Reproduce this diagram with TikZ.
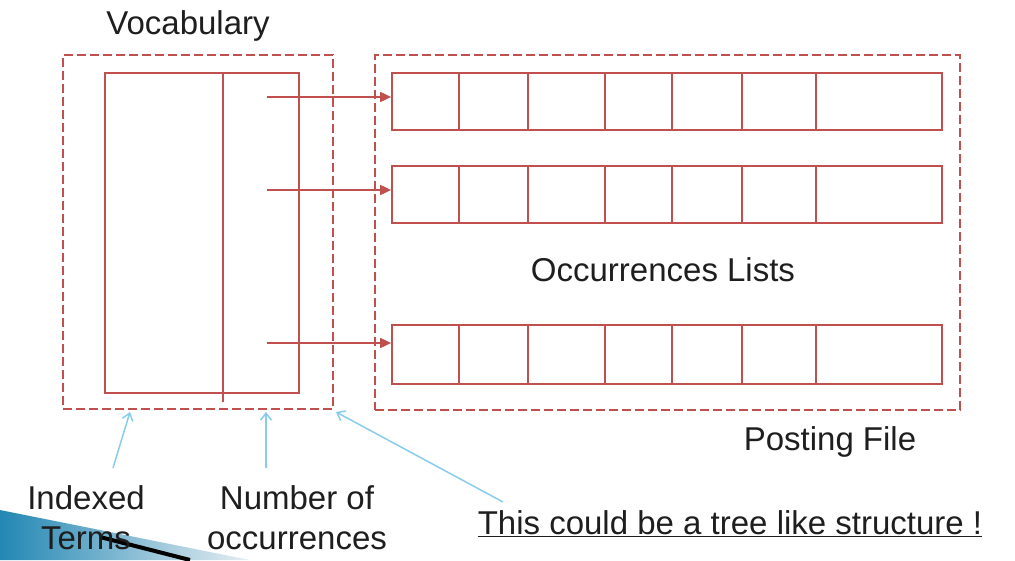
\documentclass[tikz,border=0pt]{standalone}
\usepackage{fontspec}
\setmainfont{Liberation Sans}
\usepackage{xcolor}
\usepackage{tikz}
\usetikzlibrary{arrows.meta}

\definecolor{boxred}{RGB}{192,80,77}
\definecolor{tipblue}{RGB}{135,205,235}
\definecolor{inkgray}{RGB}{30,30,30}

\begin{document}
\begin{tikzpicture}[x=1pt,y=-1pt,
    every node/.style={font=\fontsize{33}{40}\selectfont,text=inkgray,inner sep=0pt},
    dashbox/.style={draw=boxred,line width=2pt,dash pattern=on 9pt off 4pt},
    cellbox/.style={draw=boxred,line width=1.7pt},
    link/.style={draw=boxred,line width=1.7pt,-{Triangle[length=11pt,width=10pt]}},
    pointer/.style={draw=tipblue,line width=1.5pt,-{Straight Barb[length=7pt,width=11pt]}}]
    \useasboundingbox (0,0) rectangle (1015,560);
    % corner decoration
    \shade[left color={rgb,255:red,35;green,135;blue,180},right color={rgb,255:red,230;green,238;blue,242}]
        (0,510) -- (250,560) -- (0,560) -- cycle;
    \draw[line width=4pt,black] (100,537) -- (190,560);
    % vocabulary
    \node[dashbox,minimum width=270pt,minimum height=354pt] (vocab) at (198,232) {};
    \node[cellbox,minimum width=194pt,minimum height=320pt] (table) at (202,233) {};
    \draw[cellbox] (table.north) ++(21,0) coordinate (split) -- (split |- 0,402);
    \node (vocabtitle) at (188,26) {Vocabulary};
    % posting file
    \node[dashbox,minimum width=585pt,minimum height=355pt] (posting) at (667,232) {};
    \node[cellbox,minimum width=550pt,minimum height=57pt] (row1) at (667,101.5) {};
    \node[cellbox,minimum width=550pt,minimum height=57pt] (row2) at (667,194.5) {};
    \node[cellbox,minimum width=550pt,minimum height=59pt] (row3) at (667,354.5) {};
    \foreach \r in {row1,row2,row3}
        \foreach \x in {459,528,605,672,742,816}
            \draw[cellbox] (\x,0 |- \r.north) -- (\x,0 |- \r.south);
    \node (occ) at (663,270) {Occurrences Lists};
    \node (postingtitle) at (830,442) {Posting File};
    % pointers from vocabulary
    \coordinate (a1) at (267,97);
    \coordinate (a2) at (267,190);
    \coordinate (a3) at (267,343);
    \draw[link] (a1) -- (a1 -| row1.west);
    \draw[link] (a2) -- (a2 -| row2.west);
    \draw[link] (a3) -- (a3 -| row3.west);
    % labels
    \node[align=center] (lblterms) at (86,518) {Indexed\\Terms};
    \node[align=center] (lblcount) at (297,518) {Number of\\occurrences};
    \node (lblnote) at (730,524) {\underline{This could be a tree like structure !}};
    \coordinate (t1) at (130,412);
    \coordinate (t2) at (266,412);
    \coordinate (t3) at (336,412);
    \draw[pointer] (113,468) coordinate (s1) -- (t1);
    \draw[pointer] (266,468) coordinate (s2) -- (t2);
    \draw[pointer] (503,502) coordinate (s3) -- (t3);
\end{tikzpicture}
\end{document}
